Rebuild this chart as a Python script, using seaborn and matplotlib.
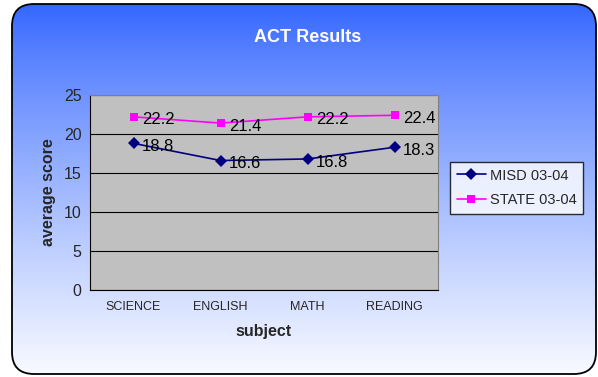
import numpy as np
import pandas as pd
import matplotlib
matplotlib.use("Agg")
import matplotlib.pyplot as plt
import seaborn as sns
from matplotlib.patches import FancyBboxPatch

subjects = ["SCIENCE", "ENGLISH", "MATH", "READING"]
misd = [18.8, 16.6, 16.8, 18.3]
state = [22.2, 21.4, 22.2, 22.4]
series_names = ["MISD 03-04", "STATE 03-04"]

df = pd.DataFrame({
    "pos": list(range(len(subjects))) * 2,
    "score": misd + state,
    "series": [series_names[0]] * len(misd) + [series_names[1]] * len(state),
})

sns.set_style("white")
plt.rcParams["font.family"] = ["Liberation Sans", "DejaVu Sans"]

fig = plt.figure(figsize=(5.98, 3.77), dpi=100)

# gradient background with rounded border
bg = fig.add_axes([0, 0, 1, 1], zorder=-10)
bg.set_axis_off()
top = np.array([0x33, 0x66, 0xFF]) / 255
bot = np.array([0xF8, 0xFA, 0xFF]) / 255
t = np.linspace(0, 1, 256) ** 0.85
grad = top * (1 - t[:, None, None]) + bot * t[:, None, None]
grad = np.repeat(grad, 2, axis=1)
box = FancyBboxPatch((12, 4), 584, 370, boxstyle="round,pad=0,rounding_size=22",
                     facecolor="none", edgecolor="black", linewidth=1.3)
im = bg.imshow(grad, extent=[12, 596, 374, 4], aspect="auto")
bg.add_patch(box)
im.set_clip_path(box)
bg.set_xlim(0, 598)
bg.set_ylim(377, 0)

ax = fig.add_axes([90 / 598, 1 - 290 / 377, 348 / 598, 195 / 377])
ax.set_facecolor("#C0C0C0")

palette = {series_names[0]: "#000080", series_names[1]: "#FF00FF"}
markers = {series_names[0]: "D", series_names[1]: "s"}
sns.lineplot(data=df, x="pos", y="score", hue="series", style="series",
             palette=palette, markers=markers, dashes=False, markersize=6,
             linewidth=1.2, ax=ax, markeredgewidth=0, sort=False)

for vals in (misd, state):
    for i, v in enumerate(vals):
        ax.annotate(f"{v}", (i, v), xytext=(6, -5.5), textcoords="offset points",
                    fontsize=12, color="black")

ax.set_xlim(-0.5, 3.5)
ax.set_ylim(0, 25)
ax.set_yticks([0, 5, 10, 15, 20, 25])
ax.set_xticks([-0.5, 0.5, 1.5, 2.5, 3.5])
ax.set_xticklabels([])
ax.set_xticks(range(4), minor=True)
ax.set_xticklabels(subjects, minor=True, fontsize=9)
ax.tick_params(axis="x", which="minor", length=0, pad=8)
ax.tick_params(axis="x", which="major", length=4, direction="in", color="black")
ax.tick_params(axis="y", length=4, direction="out", labelsize=11.5, pad=2)
ax.yaxis.grid(True, color="black", linewidth=0.8)
ax.set_axisbelow(True)
for s in ("top", "right"):
    ax.spines[s].set_color("#808080")
for s in ("left", "bottom"):
    ax.spines[s].set_color("black")

ax.set_xlabel("subject", fontsize=11.5, fontweight="bold", labelpad=8)
ax.set_ylabel("average score", fontsize=11.5, fontweight="bold", labelpad=6)

leg = ax.legend(loc="upper left", bbox_to_anchor=(450 / 598, 1 - 162 / 377),
                bbox_transform=fig.transFigure, frameon=True, fancybox=False,
                fontsize=10.5, borderpad=0.45, handlelength=2.0, handletextpad=0.3,
                labelspacing=0.75, borderaxespad=0)
leg.get_frame().set_edgecolor("black")
leg.get_frame().set_facecolor("white")
leg.get_frame().set_linewidth(1.0)

fig.text(0.5 + 0.015, 1 - 38 / 377, "ACT Results", ha="center", va="center",
         color="white", fontsize=13, fontweight="bold")

fig.savefig("out.png", dpi=100)
